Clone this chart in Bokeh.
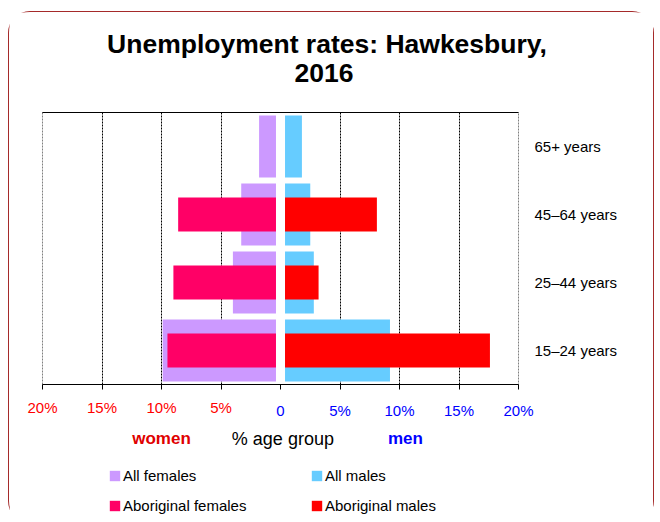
import numpy as np
from bokeh.plotting import figure
from bokeh.layouts import column
from bokeh.models import (ColumnDataSource, FactorRange, Range1d, FixedTicker, LinearAxis,
                          Legend, LegendItem, Label)
from bokeh.embed import file_html
from bokeh.resources import INLINE

# ---------------- data ----------------
TITLE_LINES = ["Unemployment rates: Hawkesbury,", "2016"]
AGE_GROUPS = ["15–24 years", "25–44 years", "45–64 years", "65+ years"]
ALL_FEMALES = [9.9, 4.0, 3.3, 1.8]
ABORIGINAL_FEMALES = [9.5, 9.0, 8.6, np.nan]
ALL_MALES = [9.2, 2.8, 2.5, 1.8]
ABORIGINAL_MALES = [17.6, 3.2, 8.1, np.nan]
SERIES_NAMES = ["All females", "All males", "Aboriginal females", "Aboriginal males"]
WOMEN_TICKS = [-20, -15, -10, -5]
WOMEN_TICK_LABELS = ["20%", "15%", "10%", "5%"]
MEN_TICKS = [0, 5, 10, 15, 20]
MEN_TICK_LABELS = ["0", "5%", "10%", "15%", "20%"]
X_LABEL = "% age group"
WOMEN_LABEL = "women"
MEN_LABEL = "men"

# ---------------- style ----------------
FONT = "Liberation Sans"
C_ALL_F = "#CC99FF"
C_ABO_F = "#FF0066"
C_ALL_M = "#66CCFF"
C_ABO_M = "#FF0000"
C_SERIES = [C_ALL_F, C_ALL_M, C_ABO_F, C_ABO_M]
GAP = 0.38
WOMEN_POS, AXIS_TITLE_POS, MEN_POS = -10, 0.2, 10.5
W = 644
FRAME_L, FRAME_R = 33, 135
H_TITLE, H_MAIN, H_LEG = 96, 313, 101
TITLE_X = [317.5, 314.5]
TITLE_BASELINE = [31.0, 60.2]

x_range = Range1d(-20, 20)

src = ColumnDataSource(dict(
    age=AGE_GROUPS,
    f_all=[-v for v in ALL_FEMALES],
    f_abo=[-v for v in ABORIGINAL_FEMALES],
    m_all=ALL_MALES,
    m_abo=ABORIGINAL_MALES,
))

# ---------------- title strip ----------------
tp = figure(width=W, height=H_TITLE, title=None, x_axis_type=None, y_axis_type=None,
            x_range=Range1d(0, W), y_range=Range1d(H_TITLE, 0),
            toolbar_location=None, output_backend="svg",
            min_border_left=0, min_border_right=0, min_border_top=0, min_border_bottom=0,
            outline_line_color=None, background_fill_color="white", border_fill_color="white")
if "frame_align" in tp.properties():
    tp.frame_align = False
for line, tx, ty in zip(TITLE_LINES, TITLE_X, TITLE_BASELINE):
    tp.add_layout(Label(x=tx, y=ty, text=line, text_align="center", text_baseline="alphabetic",
                        text_font=FONT, text_font_size="26.5px", text_font_style="bold",
                        text_color="black"))

# ---------------- main chart ----------------
p = figure(width=W, height=H_MAIN, title=None,
           x_range=x_range, y_range=FactorRange(*AGE_GROUPS),
           y_axis_location="right", toolbar_location=None, output_backend="svg",
           min_border_left=FRAME_L, min_border_right=FRAME_R, min_border_top=4, min_border_bottom=36,
           outline_line_color="#808080", outline_line_dash="2 1", outline_line_width=1,
           background_fill_color="white", border_fill_color="white")

r_all_f = p.hbar(y="age", left="f_all", right=-GAP, height=0.91, source=src,
                 fill_color=C_ALL_F, line_color=None)
r_all_m = p.hbar(y="age", left=GAP, right="m_all", height=0.91, source=src,
                 fill_color=C_ALL_M, line_color=None)
r_abo_f = p.hbar(y="age", left="f_abo", right=-GAP, height=0.5, source=src,
                 fill_color=C_ABO_F, line_color=None)
r_abo_m = p.hbar(y="age", left=GAP, right="m_abo", height=0.5, source=src,
                 fill_color=C_ABO_M, line_color=None)

p.ygrid.visible = False
p.xgrid.ticker = FixedTicker(ticks=[t for t in WOMEN_TICKS + MEN_TICKS if abs(t) not in (0, 20)])
p.xgrid.grid_line_color = "black"
p.xgrid.grid_line_dash = "2 1"
p.xgrid.grid_line_width = 1

# bottom axis: line, ticks and women's labels (red)
ax = p.xaxis[0]
ax.ticker = FixedTicker(ticks=WOMEN_TICKS + MEN_TICKS)
overrides = dict(zip(WOMEN_TICKS, WOMEN_TICK_LABELS))
overrides.update({t: "" for t in MEN_TICKS})
ax.major_label_overrides = overrides
ax.major_label_text_color = "#FF0000"
ax.major_label_text_font = FONT
ax.major_label_text_font_size = "15px"
ax.major_label_standoff = 9
ax.axis_line_color = "black"
ax.major_tick_line_color = "black"
ax.major_tick_out = 5
ax.major_tick_in = 0
ax.minor_tick_line_color = None

# men's tick labels (blue), pulled up onto the same row
ax2 = LinearAxis(ticker=FixedTicker(ticks=MEN_TICKS),
                 major_label_overrides=dict(zip(MEN_TICKS, MEN_TICK_LABELS)),
                 major_label_text_color="#0000FF", major_label_text_font=FONT,
                 major_label_text_font_size="15px", major_label_standoff=-17,
                 axis_line_color=None, major_tick_line_color=None, minor_tick_line_color=None,
                 major_tick_out=0, major_tick_in=0)
p.add_layout(ax2, "below")

# top line
top = LinearAxis(ticker=FixedTicker(ticks=[]), axis_line_color="black",
                 major_tick_line_color=None, minor_tick_line_color=None,
                 major_tick_out=0, major_tick_in=0, major_label_text_font_size="0px")
p.add_layout(top, "above")

ya = p.yaxis[0]
ya.major_label_text_font = FONT
ya.major_label_text_font_size = "15px"
ya.major_label_text_color = "black"
ya.axis_line_color = None
ya.major_tick_line_color = None
ya.minor_tick_line_color = None
ya.major_tick_out = 0
ya.major_tick_in = 0
ya.major_label_standoff = 16

# ---------------- axis titles + legend strip ----------------
lg = figure(width=W, height=H_LEG, title=None, x_range=x_range, y_range=Range1d(H_LEG, 0),
            x_axis_type=None, y_axis_type=None, toolbar_location=None, output_backend="svg",
            min_border_left=FRAME_L, min_border_right=FRAME_R, min_border_top=0, min_border_bottom=0,
            outline_line_color=None, background_fill_color="white", border_fill_color="white")
ROW_Y = 17
lg.add_layout(Label(x=WOMEN_POS, y=ROW_Y, text=WOMEN_LABEL, text_align="center",
                    text_baseline="middle", text_font=FONT, text_font_size="17px",
                    text_font_style="bold", text_color="#E00000"))
lg.add_layout(Label(x=AXIS_TITLE_POS, y=ROW_Y, text=X_LABEL, text_align="center",
                    text_baseline="middle", text_font=FONT, text_font_size="18px",
                    text_color="black"))
lg.add_layout(Label(x=MEN_POS, y=ROW_Y, text=MEN_LABEL, text_align="center",
                    text_baseline="middle", text_font=FONT, text_font_size="17px",
                    text_font_style="bold", text_color="#0000FF"))

# legend swatches: glyphs with no drawable data that only carry the series colours
items = []
for name, col in zip(SERIES_NAMES, C_SERIES):
    r = lg.hbar(y=[np.nan], left=[np.nan], right=[np.nan], height=0.5,
                fill_color=col, line_color=None)
    items.append(LegendItem(label=name, renderers=[r]))
legend = Legend(items=items, orientation="horizontal", ncols=2, location=(66, 6.5),
                glyph_width=13, glyph_height=13, label_standoff=2, label_width=177,
                label_height=20, spacing=10, padding=0, margin=0,
                border_line_color=None, background_fill_alpha=0,
                label_text_font=FONT, label_text_font_size="15px", label_text_color="black")
lg.add_layout(legend, "center")

layout = column(tp, p, lg, spacing=0)
layout.styles = {"box-shadow": "0 0 0 1px #A52A2A", "border-radius": "21px",
                 "margin-top": "12px", "margin-left": "9px"}

open("out.html", "w").write(file_html(layout, INLINE))
